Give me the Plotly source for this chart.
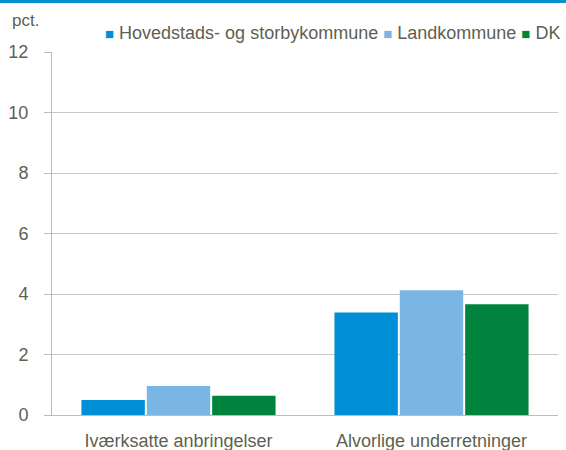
import plotly.graph_objects as go

categories = ["Iværksatte anbringelser", "Alvorlige underretninger"]
series_names = ["Hovedstads- og storbykommune", "Landkommune", "DK"]
hoved = [0.5, 3.39]
land = [0.96, 4.12]
dk = [0.64, 3.66]
colors = ["#008fd5", "#7ab6e3", "#00843d"]

FONT = "Liberation Sans Narrow, Arial Narrow, Liberation Sans, Arial"
TXT = "#5f5f52"

fig = go.Figure()
for name, vals, c in zip(series_names, [hoved, land, dk], colors):
    fig.add_trace(go.Bar(x=categories, y=vals, name=name, marker_color=c,
                         marker_line_width=0))

legend_text = " ".join(
    f"<span style='color:{c};font-size:15px'>■</span> {n}"
    for n, c in zip(series_names, colors)
)

fig.update_layout(
    width=566, height=450,
    margin=dict(l=52, r=8, t=52, b=35, autoexpand=False),
    paper_bgcolor="white", plot_bgcolor="white",
    font=dict(family=FONT, size=16, color=TXT),
    barmode="group", bargap=0.225, bargroupgap=0.03,
    showlegend=False,
    shapes=[dict(type="rect", xref="paper", yref="paper", x0=-0.11, x1=1.02,
                 y0=1.1350, y1=1.1433, fillcolor="#0090d0",
                 line=dict(width=0), layer="above")],
    annotations=[
        dict(text="pct.", xref="paper", yref="paper", x=-0.053, y=1.088,
             xanchor="center", yanchor="middle", showarrow=False,
             font=dict(size=17, color=TXT)),
        dict(text=legend_text, xref="paper", yref="paper", x=1.008, y=1.052,
             xanchor="right", yanchor="middle", showarrow=False,
             font=dict(size=18, color=TXT)),
    ],
)
fig.update_yaxes(range=[0, 12], dtick=2, showgrid=True, gridcolor="#c9c9c1",
                 gridwidth=1, showline=True, linecolor="#bdbdb5", ticks="outside",
                 ticklen=7, tickcolor="#bdbdb5", zeroline=False,
                 ticklabelstandoff=12,
                 tickfont=dict(size=18, color=TXT))
fig.update_xaxes(showline=True, linecolor="#bdbdb5", ticks="",
                 ticklabelstandoff=9,
                 tickfont=dict(size=18, color=TXT))

fig.write_html("out.html", config={"displayModeBar": False},
               post_script="document.body.style.margin='0';")
